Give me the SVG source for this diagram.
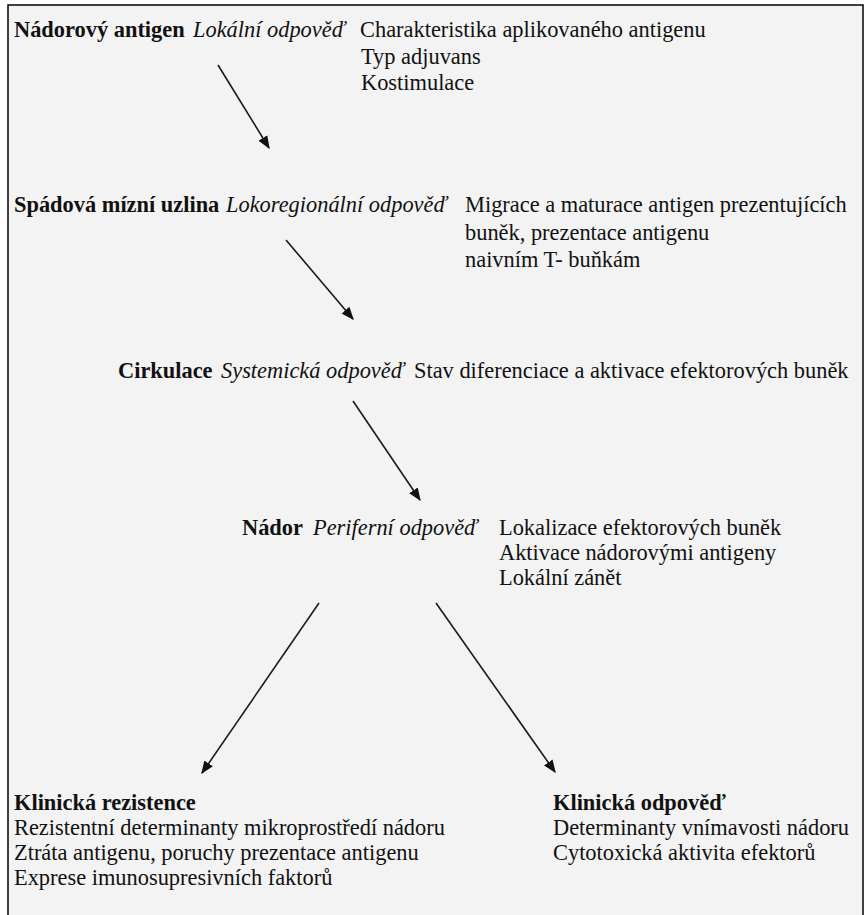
<svg xmlns="http://www.w3.org/2000/svg" width="868" height="915" viewBox="0 0 868 915">
<defs>
<style>
text{font-family:"Liberation Serif","Times New Roman",serif;font-size:22.4px;fill:#111}
.b{font-weight:bold}
.i{font-style:italic}
.conn line{stroke:#1a1a1a;stroke-width:1.6;fill:none}
</style>
<marker id="ah" viewBox="0 0 10 10" refX="9" refY="5" markerWidth="13" markerHeight="13" markerUnits="userSpaceOnUse" orient="auto">
<path d="M0,1 L10,5 L0,9 z" fill="#111"/>
</marker>
</defs>
<rect x="0" y="0" width="868" height="915" fill="#ffffff"/>
<rect x="8" y="5" width="855" height="930" fill="#f3f3f3" stroke="#111" stroke-width="1.6"/>
<g id="node-antigen">
<text x="14" y="37" class="b">Nádorový antigen</text>
<text x="193" y="37" class="i">Lokální odpověď</text>
<text x="360" y="37">Charakteristika aplikovaného antigenu</text>
<text x="361" y="64">Typ adjuvans</text>
<text x="361" y="90">Kostimulace</text>
</g>
<g id="node-uzlina">
<text x="14" y="212" class="b">Spádová mízní uzlina</text>
<text x="226" y="212" class="i">Lokoregionální odpověď</text>
<text x="465" y="212">Migrace a maturace antigen prezentujících</text>
<text x="465" y="240">buněk, prezentace antigenu</text>
<text x="465" y="267">naivním T- buňkám</text>
</g>
<g id="node-cirkulace">
<text x="118" y="378" class="b">Cirkulace</text>
<text x="221" y="378" class="i">Systemická odpověď</text>
<text x="414" y="378">Stav diferenciace a aktivace efektorových buněk</text>
</g>
<g id="node-nador">
<text x="242" y="535" class="b">Nádor</text>
<text x="313" y="535" class="i">Periferní odpověď</text>
<text x="499" y="535">Lokalizace efektorových buněk</text>
<text x="499" y="560">Aktivace nádorovými antigeny</text>
<text x="499" y="585">Lokální zánět</text>
</g>
<g id="node-rezistence">
<text x="14" y="810" class="b">Klinická rezistence</text>
<text x="14" y="835">Rezistentní determinanty mikroprostředí nádoru</text>
<text x="14" y="860">Ztráta antigenu, poruchy prezentace antigenu</text>
<text x="14" y="885">Exprese imunosupresivních faktorů</text>
</g>
<g id="node-odpoved">
<text x="553" y="810" class="b">Klinická odpověď</text>
<text x="553" y="835">Determinanty vnímavosti nádoru</text>
<text x="553" y="860">Cytotoxická aktivita efektorů</text>
</g>
<g class="conn" id="connectors">
<line x1="218" y1="65" x2="269" y2="148" marker-end="url(#ah)"/>
<line x1="286" y1="240" x2="353" y2="319" marker-end="url(#ah)"/>
<line x1="353" y1="401" x2="420" y2="500" marker-end="url(#ah)"/>
<line x1="319" y1="603" x2="202" y2="773" marker-end="url(#ah)"/>
<line x1="436" y1="603" x2="555" y2="772" marker-end="url(#ah)"/>
</g>
</svg>
